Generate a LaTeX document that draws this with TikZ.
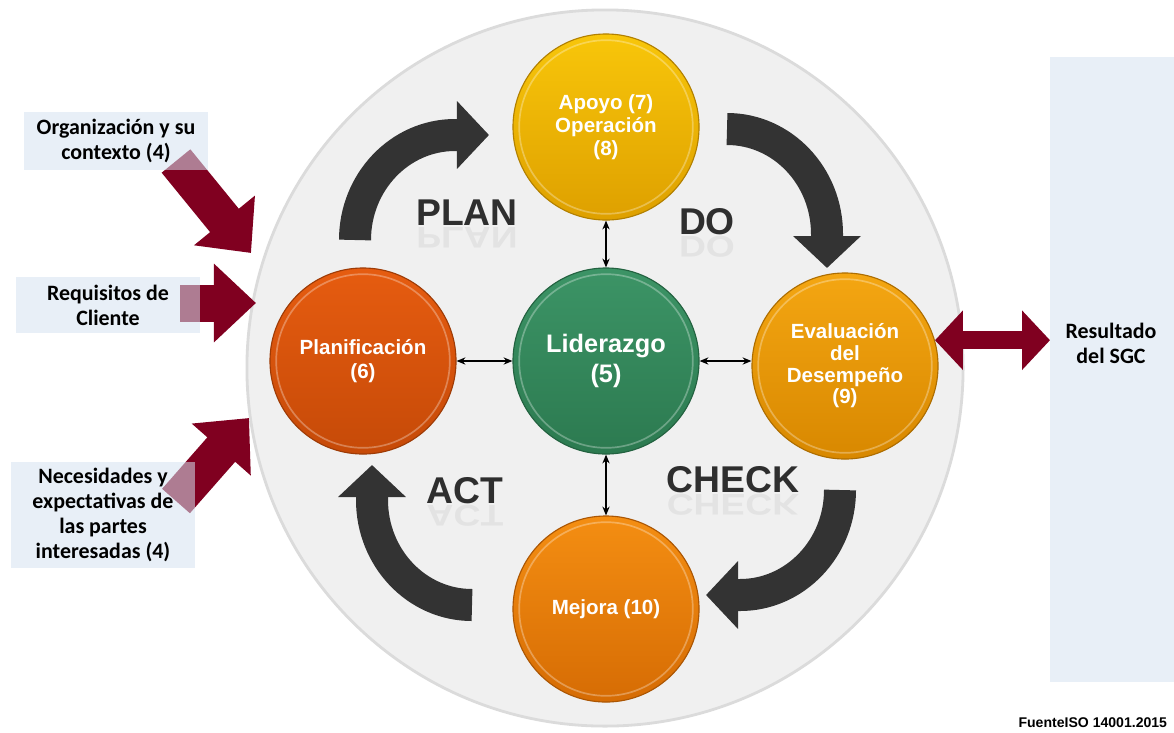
\documentclass[tikz,border=0pt]{standalone}
\usepackage{fontspec}
\setmainfont{Liberation Sans}
\newfontfamily\calibri{Carlito}
\usepackage{graphicx}
\usetikzlibrary{arrows.meta,positioning}

\definecolor{inred}{RGB}{128,0,32}
\definecolor{boxblue}{RGB}{213,226,240}
\definecolor{panelblue}{RGB}{232,239,247}
\definecolor{discgray}{RGB}{240,240,240}
\definecolor{cyclegray}{RGB}{51,51,51}
\definecolor{apoyoT}{RGB}{248,198,10}
\definecolor{apoyoB}{RGB}{222,160,0}
\definecolor{liderT}{RGB}{60,148,102}
\definecolor{liderB}{RGB}{44,122,80}
\definecolor{planT}{RGB}{230,92,16}
\definecolor{planB}{RGB}{198,74,8}
\definecolor{evalT}{RGB}{244,166,18}
\definecolor{evalB}{RGB}{216,136,0}
\definecolor{mejoraT}{RGB}{244,142,18}
\definecolor{mejoraB}{RGB}{214,108,4}

\tikzset{
    phase/.style 2 args={circle, minimum size=4.65cm, inner sep=0pt, align=center,
        text=white, font=\bfseries\fontsize{14.6}{16.5}\selectfont,
        top color=#1, bottom color=#2, draw=#2!80!black, line width=0.8pt,
        path picture={\draw[white, opacity=0.3, line width=1.2pt]
            (path picture bounding box.center) circle[radius=2.17cm];}},
    inbox/.style={rectangle, fill=boxblue, fill opacity=0.55, text opacity=1,
        minimum width=4.575cm, inner sep=0pt, align=center,
        font=\calibri\bfseries\fontsize{15.6}{17.7}\selectfont},
    inarrow/.style={inred, line width=0.925cm, -{Triangle[length=1.05cm, width=1.9cm]}},
    cyclearrow/.style={cyclegray, line width=0.8cm, -{Triangle[length=0.8cm, width=1.65cm]}},
    linkarrow/.style={black, line width=1.4pt, {Stealth[length=2.2mm, width=1.8mm]}-{Stealth[length=2.2mm, width=1.8mm]}},
    pdca/.style={text=black!82, font=\bfseries\fontsize{26.5}{30}\selectfont},
    pdcamirror/.style={text=black!11, font=\bfseries\fontsize{26.5}{30}\selectfont}
}

\begin{document}
\begin{tikzpicture}[x=0.025cm, y=-0.025cm]
    \useasboundingbox (0,0) rectangle (1174,732);

    % Grey disc and result panel
    \node[circle, minimum size=17.9cm, fill=discgray, draw=black!14, line width=2pt] (cycle) at (605,368) {};
    \node[rectangle, fill=panelblue, minimum width=3.1cm, minimum height=15.625cm, anchor=north west] (panel) at (1050,57) {};
    \node[align=center, font=\calibri\bfseries\fontsize{15.6}{17.7}\selectfont] (result) at (1111,343) {Resultado\\del SGC};

    % PDCA cycle arrows
    \coordinate (planstart) at (355,240);
    \coordinate (dostart) at (727,129);
    \coordinate (checkstart) at (840,490);
    \coordinate (actstart) at (472,605);
    \draw[cyclearrow] (planstart) arc[start angle=180, end angle=270, x radius=100, y radius=105] -- ++(34,0);
    \draw[cyclearrow] (dostart) arc[start angle=270, end angle=360, x radius=100, y radius=105] -- ++(0,34);
    \draw[cyclearrow] (checkstart) arc[start angle=0, end angle=90, x radius=100, y radius=105] -- ++(-34,0);
    \draw[cyclearrow] (actstart) arc[start angle=90, end angle=180, x radius=100, y radius=105] -- ++(0,-35);

    % Clauses
    \node[phase={apoyoT}{apoyoB}] (apoyo) at (606,127) {Apoyo (7)\\Operación\\(8)};
    \node[phase={liderT}{liderB}, font=\bfseries\fontsize{18}{21}\selectfont] (lider) at (606,361) {Liderazgo\\(5)};
    \node[phase={planT}{planB}] (plan) at (363,361) {Planificación\\(6)};
    \node[phase={evalT}{evalB}, font=\bfseries\fontsize{14.6}{15.4}\selectfont] (eval) at (845,366) {Evaluación\\del\\Desempeño\\(9)};
    \node[phase={mejoraT}{mejoraB}] (mejora) at (606,609) {Mejora (10)};

    \foreach \a/\b in {apoyo.south/lider.north, lider.south/mejora.north, plan.east/lider.west} {
        \draw[linkarrow] (\a) -- (\b);
    }
    \draw[linkarrow] (lider.east) -- (lider.east -| eval.west);

    % PLAN / DO / CHECK / ACT with reflection
    \foreach \t/\x/\y in {PLAN/467/213, DO/707/222, CHECK/733/480, ACT/465/491} {
        \node[pdcamirror] at (\x,\y+25) {\scalebox{1}[-0.8]{\t}};
        \node[pdca] (\t) at (\x,\y) {\t};
    }

    % Inputs
    \coordinate (orgtail) at (176,161);
    \coordinate (reqtail) at (180,303);
    \coordinate (nectail) at (176,501);
    \coordinate (orgtip) at (251,253);
    \coordinate (reqtip) at (256,303);
    \coordinate (nectip) at (249,418);
    \draw[inarrow] (orgtail) -- (orgtip);
    \draw[inarrow] (reqtail) -- (reqtip);
    \draw[inarrow] (nectail) -- (nectip);

    \node[inbox, minimum height=1.45cm] (org) at (116,141) {Organización y su\\contexto (4)};
    \node[inbox, minimum height=1.4cm] (req) at (108,305) {Requisitos de\\Cliente};
    \node[inbox, minimum height=2.65cm] (nec) at (103,515) {Necesidades y\\expectativas de\\las partes\\interesadas (4)};

    % Output
    \draw[inred, line width=0.45cm, {Triangle[length=0.7cm, width=1.45cm]}-{Triangle[length=0.7cm, width=1.45cm]}] (eval.16) -- (eval.16 -| panel.west);

    \node[anchor=east, font=\bfseries\fontsize{10}{12}\selectfont] (source) at (1172,723) {FuenteISO 14001.2015};
\end{tikzpicture}
\end{document}
